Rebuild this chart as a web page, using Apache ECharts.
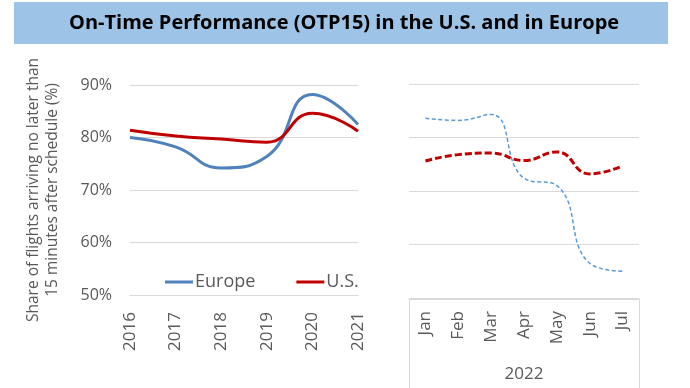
<!DOCTYPE html>
<html>
<head>
<meta charset="utf-8">
<script src="https://cdn.jsdelivr.net/npm/echarts@6/dist/echarts.min.js"></script>
<style>
html,body{margin:0;padding:0;background:#fff;}
#chart{width:690px;height:388px;}
</style>
</head>
<body>
<div id="chart"></div>
<script>
// ---- data ----
const titleText = 'On-Time Performance (OTP15) in the U.S. and in Europe';
const yAxisName = 'Share of flights arriving no later than\n15 minutes after schedule (%)';
const years = ['2016', '2017', '2018', '2019', '2020', '2021'];
const europeYears = [80.0, 78.2, 74.2, 76.4, 88.2, 82.5];
const usYears = [81.4, 80.3, 79.7, 79.1, 84.6, 81.2];
const months = ['Jan', 'Feb', 'Mar', 'Apr', 'May', 'Jun', 'Jul'];
const monthGroup = '2022';
const europeMonths = [83.6, 83.2, 84.3, 72.4, 71.0, 56.5, 55.0];
const usMonths = [75.6, 76.8, 77.1, 75.7, 77.3, 73.2, 74.7];
const yMin = 50, yMax = 90, yStep = 10;

const FONT = '"Open Sans", "Noto Sans", sans-serif';
const GRAY = '#595959';
const GRID = '#d9d9d9';
const BLUE = '#4f81bd';
const LBLUE = '#5b9bd5';
const RED = '#c00000';
const SMOOTH = 0.5;

const chart = echarts.init(document.getElementById('chart'), null, {renderer: 'canvas'});
const pct = v => v + '%';

chart.setOption({
  animation: false,
  backgroundColor: '#fff',
  textStyle: {fontFamily: FONT},
  title: {
    text: titleText,
    left: 64,
    top: 8,
    textStyle: {fontFamily: FONT, fontWeight: 'bold', fontSize: 20, color: '#000'}
  },
  graphic: [
    {type: 'rect', z: -1, shape: {x: 14, y: 2, width: 654, height: 42}, style: {fill: '#9dc3e6'}},
    {type: 'rect', z: -1, shape: {x: 409.5, y: 299.5, width: 230, height: 100}, style: {fill: 'none', stroke: GRID, lineWidth: 1}}
  ],
  legend: {
    left: 160,
    top: 268,
    icon: 'rect',
    itemWidth: 28,
    itemHeight: 3,
    itemGap: 41,
    textStyle: {fontFamily: FONT, fontSize: 18, color: GRAY, padding: [0, 0, 0, -3]},
    data: ['Europe', 'U.S.']
  },
  grid: [
    {left: 130, right: 332, top: 85, bottom: 93},
    {left: 409, right: 51, top: 84, bottom: 89}
  ],
  xAxis: [
    {
      type: 'category', gridIndex: 0, data: years, boundaryGap: false,
      axisLine: {lineStyle: {color: GRID}},
      axisTick: {show: false},
      axisLabel: {rotate: 90, fontSize: 17, color: GRAY, fontFamily: FONT, margin: 17}
    },
    {
      type: 'category', gridIndex: 1, data: months, boundaryGap: true,
      axisLine: {lineStyle: {color: GRID}},
      axisTick: {show: false},
      axisLabel: {rotate: 90, fontSize: 17, color: GRAY, fontFamily: FONT, margin: 13},
      name: monthGroup, nameLocation: 'middle', nameGap: 68,
      nameTextStyle: {fontSize: 17, color: GRAY, fontFamily: FONT}
    }
  ],
  yAxis: [
    {
      type: 'value', gridIndex: 0, min: yMin, max: yMax, interval: yStep,
      axisLine: {show: false}, axisTick: {show: false},
      splitLine: {lineStyle: {color: GRID, width: 1}},
      axisLabel: {formatter: pct, fontSize: 16, color: GRAY, fontFamily: FONT, margin: 18},
      name: yAxisName, nameLocation: 'middle', nameGap: 68,
      nameTextStyle: {fontSize: 15.5, lineHeight: 19, color: GRAY, fontFamily: FONT}
    },
    {
      type: 'value', gridIndex: 1, min: yMin, max: yMax, interval: yStep,
      axisLine: {show: false}, axisTick: {show: false},
      splitLine: {lineStyle: {color: GRID, width: 1}},
      axisLabel: {show: false}
    }
  ],
  series: [
    {
      name: 'Europe', type: 'line', xAxisIndex: 0, yAxisIndex: 0, data: europeYears,
      smooth: SMOOTH, symbol: 'none', lineStyle: {color: BLUE, width: 3}, itemStyle: {color: BLUE}
    },
    {
      name: 'U.S.', type: 'line', xAxisIndex: 0, yAxisIndex: 0, data: usYears,
      smooth: SMOOTH, symbol: 'none', lineStyle: {color: RED, width: 3}, itemStyle: {color: RED}
    },
    {
      name: 'Europe 2022', type: 'line', xAxisIndex: 1, yAxisIndex: 1, data: europeMonths,
      smooth: SMOOTH, symbol: 'none', lineStyle: {color: LBLUE, width: 1.5, type: [4, 2.5]}, itemStyle: {color: LBLUE}
    },
    {
      name: 'U.S. 2022', type: 'line', xAxisIndex: 1, yAxisIndex: 1, data: usMonths,
      smooth: SMOOTH, symbol: 'none', lineStyle: {color: RED, width: 3, type: [7, 3]}, itemStyle: {color: RED}
    }
  ]
});
</script>
</body>
</html>
